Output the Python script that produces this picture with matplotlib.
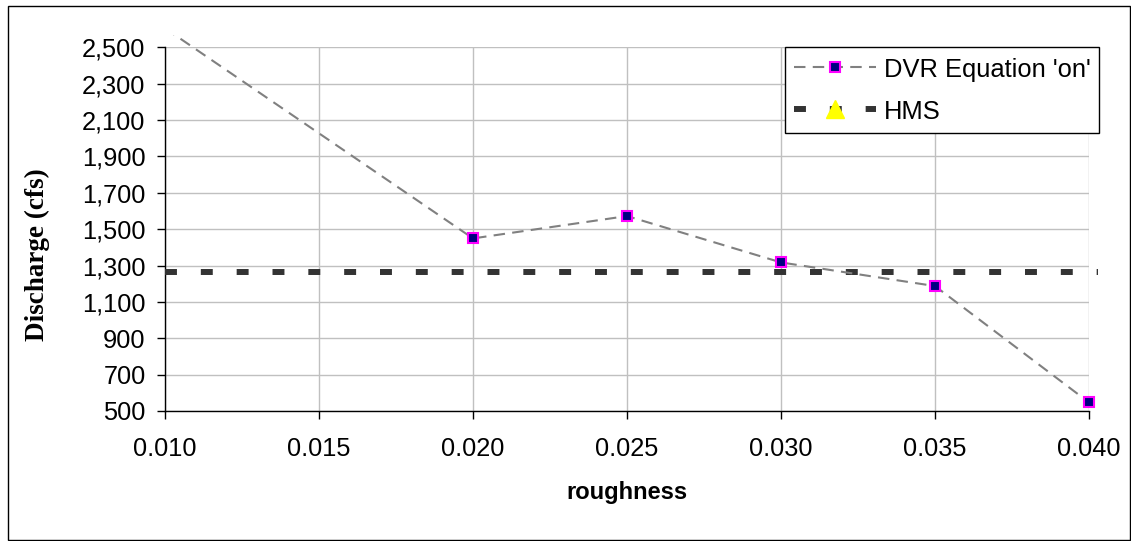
import matplotlib
matplotlib.use("Agg")
import matplotlib.pyplot as plt
from matplotlib.lines import Line2D
from matplotlib.patches import Rectangle

# data
roughness = [0.010, 0.020, 0.025, 0.030, 0.035, 0.040]
dvr_on = [2605, 1449, 1572, 1317, 1187, 547]
hms_x = [0.010, 0.0403]
hms_q = [1266, 1266]

x_ticks = [0.010, 0.015, 0.020, 0.025, 0.030, 0.035, 0.040]
y_ticks = [500, 700, 900, 1100, 1300, 1500, 1700, 1900, 2100, 2300, 2500]

W, H = 1131, 541
fig = plt.figure(figsize=(W / 100, H / 100), dpi=100)
ax = fig.add_axes([165 / W, 1 - 411 / H, 924 / W, 363.7 / H])

# outer chart border
fig.patches.append(Rectangle((8 / W, 1.5 / H), 1122 / W, 534 / H, transform=fig.transFigure,
                             fill=False, edgecolor="black", linewidth=1))

dvr_line, = ax.plot(roughness, dvr_on, color="#808080", linewidth=1.5, dashes=(5.5, 3.5),
                    marker="s", markersize=7, markerfacecolor="#000080", markeredgecolor="#FF00FF",
                    markeredgewidth=1.5, zorder=4)
# excel lets the line run a bit above the plot area before it is cut
clip = Rectangle((0.010, 400), 0.032, 2166, transform=ax.transData, visible=False)
ax.add_patch(clip)
dvr_line.set_clip_path(clip)

ax.plot(hms_x, hms_q, color="#333333", linewidth=4.3, dashes=(2.0, 4.0),
        solid_capstyle="butt", dash_capstyle="butt", clip_on=False, zorder=3)

ax.set_xlim(0.010, 0.040)
ax.set_ylim(500, 2500)
ax.set_xticks(x_ticks)
ax.set_yticks(y_ticks)
ax.set_xticklabels([f"{v:.3f}" for v in x_ticks])
ax.set_yticklabels([f"{v:,}" for v in y_ticks])

ax.grid(True, color="#C0C0C0", linewidth=1)
ax.set_axisbelow(True)
for s in ["top", "right"]:
    ax.spines[s].set_visible(False)
ax.spines["left"].set_linewidth(1)
ax.spines["bottom"].set_linewidth(1)

ax.tick_params(axis="both", direction="out", length=6, width=1, labelsize=18.3,
               labelfontfamily="Liberation Sans")
ax.tick_params(axis="y", pad=8)
ax.tick_params(axis="x", pad=13)

ax.set_xlabel("roughness", fontsize=17, fontweight="bold", family="Liberation Sans", va="center")
ax.xaxis.set_label_coords(0.5, -0.225)
ax.set_ylabel("Discharge (cfs)", fontsize=19.5, fontweight="bold", family="Liberation Serif", va="center")
ax.yaxis.set_label_coords(-0.1385, 0.430)

handles = [
    Line2D([], [], color="#808080", linewidth=1.5, dashes=(5.5, 3.5), marker="s", markersize=7,
           markerfacecolor="#000080", markeredgecolor="#FF00FF", markeredgewidth=1.5),
    Line2D([], [], color="#333333", linewidth=4.3, dashes=(2.0, 4.0), marker="^", markersize=13,
           markerfacecolor="#FFFF00", markeredgecolor="#FFFF00"),
]
leg = fig.legend(handles, ["DVR Equation 'on'", "HMS"], loc="upper left",
                 bbox_to_anchor=(785 / W, 1 - 47 / H), borderaxespad=0,
                 prop={"family": "Liberation Sans", "size": 18.4}, handlelength=3.2,
                 handleheight=1.15, handletextpad=0.31, labelspacing=0.62, borderpad=0.35,
                 fancybox=False, framealpha=1, edgecolor="black")
leg.get_frame().set_linewidth(1)

fig.savefig("out.png", dpi=100)
